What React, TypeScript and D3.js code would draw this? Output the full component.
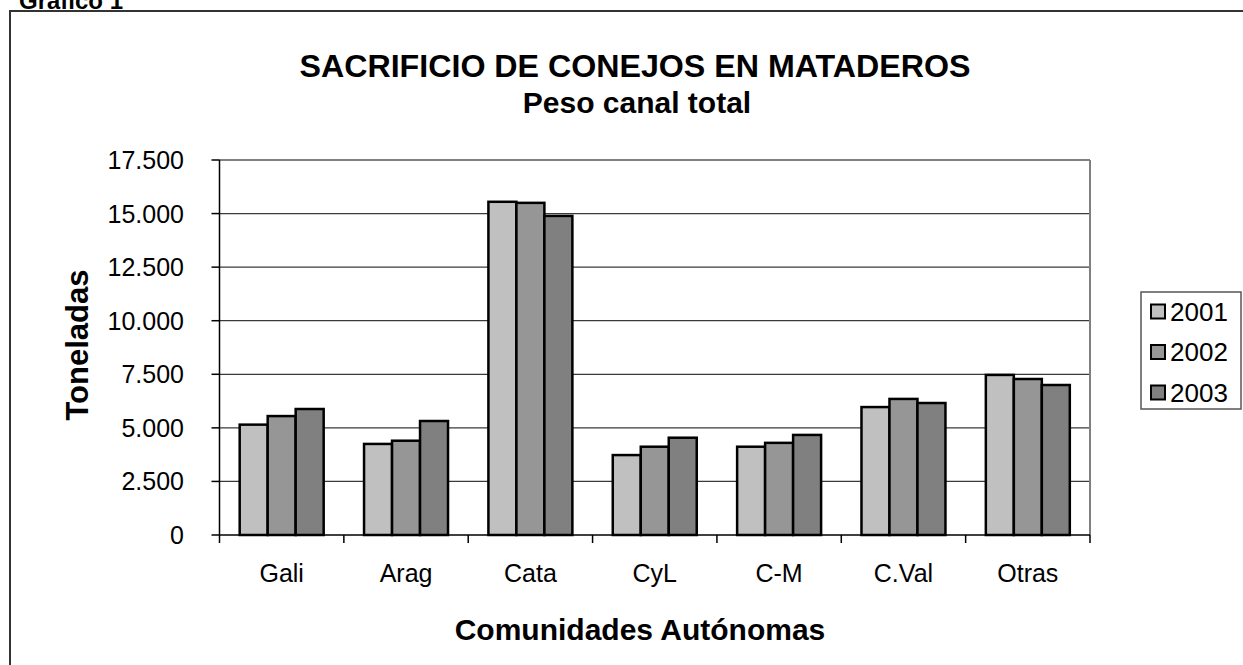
import React from "react";
import * as d3 from "d3";

const categories = ["Gali", "Arag", "Cata", "CyL", "C-M", "C.Val", "Otras"];
const years = ["2001", "2002", "2003"];
const values2001 = [5150, 4250, 15550, 3730, 4120, 5970, 7470];
const values2002 = [5550, 4400, 15500, 4120, 4300, 6350, 7280];
const values2003 = [5880, 5320, 14890, 4540, 4670, 6160, 7000];
const yTicks = [0, 2500, 5000, 7500, 10000, 12500, 15000, 17500];
const colors = ["#C0C0C0", "#969696", "#808080"];

const W = 1243;
const H = 665;
const plot = { left: 219.5, right: 1090, top: 160, bottom: 535 };
const FONT = "Arial, 'Liberation Sans', Helvetica, sans-serif";

function fmt(v: number) {
  if (v === 0) return "0";
  const s = String(v);
  return s.slice(0, s.length - 3) + "." + s.slice(s.length - 3);
}

export default function App() {
  const series = [values2001, values2002, values2003];
  const x0 = d3.scaleBand<string>().domain(categories).range([plot.left, plot.right]).paddingInner(0).paddingOuter(0);
  const groupW = x0.bandwidth() * (84 / 124.4);
  const x1 = d3.scaleBand<string>().domain(years).range([0, groupW]).padding(0);
  const y = d3.scaleLinear().domain([0, 17500]).range([plot.bottom, plot.top]);

  return (
    <svg width={W} height={H} style={{ position: "absolute", left: 0, top: 0, background: "#fff" }} fontFamily={FONT}>
      {/* Outer chart border */}
      <rect x={10} y={11} width={1300} height={700} fill="none" stroke="#333" strokeWidth={2} />
      <text x={19} y={9} fontSize={24} fontWeight="bold" fill="#000">Gráfico 1</text>

      {/* Title */}
      <text x={635} y={77} textAnchor="middle" fontSize={31} fontWeight="bold" textLength={671} lengthAdjust="spacingAndGlyphs">SACRIFICIO DE CONEJOS EN MATADEROS</text>
      <text x={637} y={113} textAnchor="middle" fontSize={30} fontWeight="bold">Peso canal total</text>

      {/* Gridlines */}
      {yTicks.filter((t) => t > 0).map((t) => (
        <line key={"g" + t} x1={plot.left} x2={plot.right} y1={y(t)} y2={y(t)} stroke="#3a3a3a" strokeWidth={1.3} />
      ))}
      {/* Plot area border (gray) */}
      <line x1={plot.left} x2={plot.right} y1={plot.top} y2={plot.top} stroke="#808080" strokeWidth={2} />
      <line x1={plot.right} x2={plot.right} y1={plot.top} y2={plot.bottom} stroke="#808080" strokeWidth={2} />

      {/* Bars */}
      {categories.map((c, i) => {
        const gx = (x0(c) as number) + (x0.bandwidth() - groupW) / 2;
        return years.map((yr, j) => {
          const v = series[j][i];
          return (
            <rect
              key={c + yr}
              x={gx + (x1(yr) as number)}
              y={y(v)}
              width={x1.bandwidth()}
              height={plot.bottom - y(v)}
              fill={colors[j]}
              stroke="#000"
              strokeWidth={2.5}
            />
          );
        });
      })}

      {/* Axes */}
      <line x1={plot.left} x2={plot.left} y1={plot.top} y2={plot.bottom} stroke="#000" strokeWidth={1.5} />
      <line x1={plot.left} x2={plot.right} y1={plot.bottom} y2={plot.bottom} stroke="#000" strokeWidth={1.5} />
      {yTicks.map((t) => (
        <g key={"t" + t}>
          <line x1={plot.left - 8} x2={plot.left} y1={y(t)} y2={y(t)} stroke="#000" strokeWidth={1.5} />
          <text x={184} y={y(t)} dy="0.36em" textAnchor="end" fontSize={25}>{fmt(t)}</text>
        </g>
      ))}
      {categories.concat(["__end"]).map((c, i) => {
        const xx = plot.left + i * x0.bandwidth();
        return <line key={"xt" + i} x1={xx} x2={xx} y1={plot.bottom} y2={plot.bottom + 8} stroke="#000" strokeWidth={1.5} />;
      })}
      {categories.map((c) => (
        <text key={"xl" + c} x={(x0(c) as number) + x0.bandwidth() / 2} y={582} textAnchor="middle" fontSize={25}>{c}</text>
      ))}

      {/* Axis titles */}
      <text x={640} y={640} textAnchor="middle" fontSize={30} fontWeight="bold">Comunidades Autónomas</text>
      <text transform={`translate(88,345) rotate(-90)`} textAnchor="middle" fontSize={31} fontWeight="bold">Toneladas</text>

      {/* Legend */}
      <rect x={1141} y={292} width={100} height={117} fill="#fff" stroke="#555" strokeWidth={1.5} />
      {years.map((yr, j) => (
        <g key={"lg" + yr}>
          <rect x={1151} y={304.5 + j * 40.5} width={14} height={14} fill={colors[j]} stroke="#000" strokeWidth={2} />
          <text x={1170} y={311.5 + j * 40.5} dy="0.36em" fontSize={26}>{yr}</text>
        </g>
      ))}
    </svg>
  );
}
